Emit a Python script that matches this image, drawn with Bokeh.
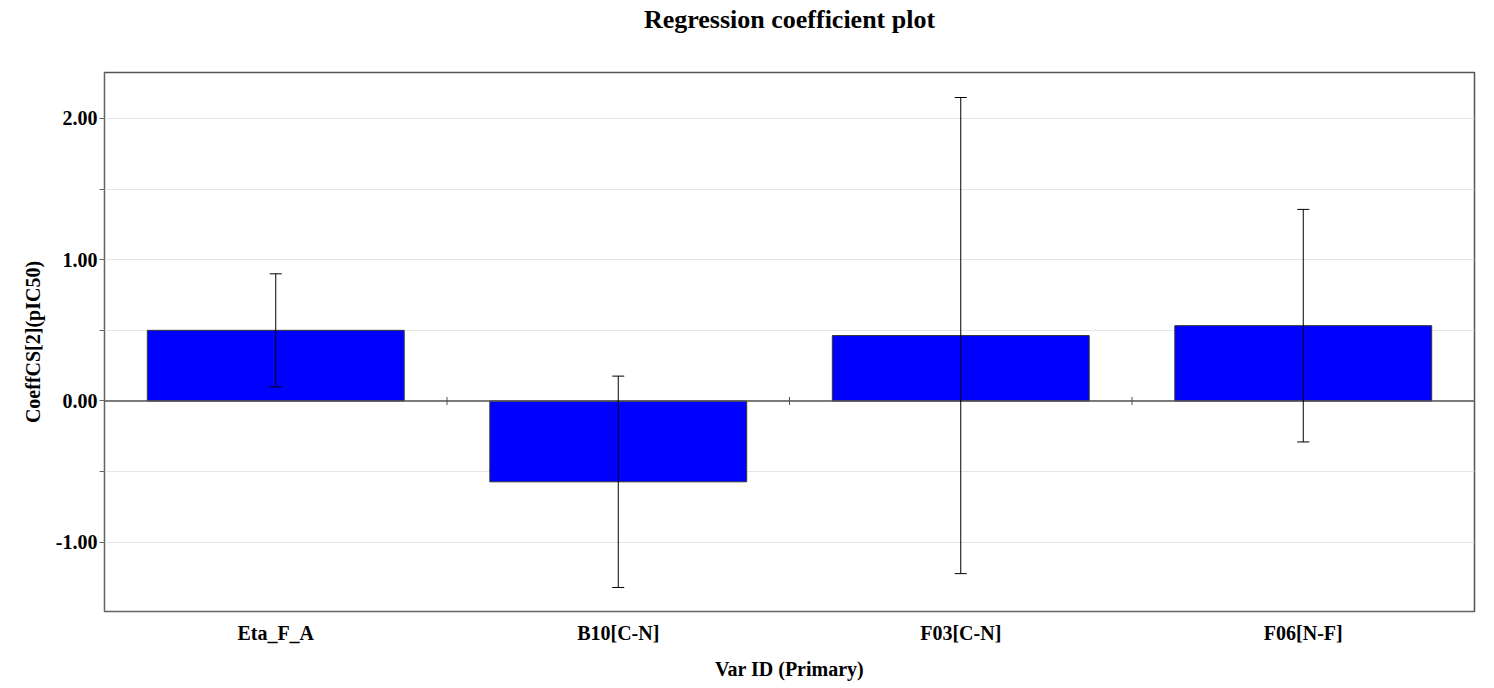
import math
from bokeh.plotting import figure
from bokeh.models import ColumnDataSource, Whisker, Span, FixedTicker, TeeHead, Title
from bokeh.transform import dodge
from bokeh.embed import file_html
from bokeh.resources import INLINE

categories = ["Eta_F_A", "B10[C-N]", "F03[C-N]", "F06[N-F]"]
coefficients = [0.50, -0.572, 0.463, 0.533]
conf_half = [0.40, 0.748, 1.685, 0.823]
y_major_ticks = [-1.0, 0.0, 1.0, 2.0]
y_minor_ticks = [-1.5, -0.5, 0.5, 1.5]

lower = [c - h for c, h in zip(coefficients, conf_half)]
upper = [c + h for c, h in zip(coefficients, conf_half)]
src = ColumnDataSource(dict(cat=categories, coef=coefficients, lower=lower, upper=upper,
                            zero=[0.0] * len(categories)))

FONT = "Liberation Serif"

p = figure(x_range=categories, y_range=(-1.49, 2.325), width=1494, height=688,
           output_backend="svg", toolbar_location=None, title=None,
           min_border_left=104, min_border_right=20, min_border_top=71, min_border_bottom=77)

p.vbar(x="cat", top="coef", bottom=0, width=0.75, source=src,
       fill_color="#0000FF", line_color="#333333", line_width=1)

p.add_layout(Span(location=0, dimension="width", line_color="#555555", line_width=1.5))

w = Whisker(base="cat", upper="upper", lower="lower", source=src,
            line_color="black", line_width=1, level="overlay",
            upper_head=TeeHead(size=12, line_color="black", line_width=1),
            lower_head=TeeHead(size=12, line_color="black", line_width=1))
p.add_layout(w)

# category separator ticks on zero line
p.scatter(x=dodge("cat", 0.5, range=p.x_range), y="zero", source=src, marker="dash",
          angle=math.pi / 2, size=8, line_color="#555555", line_width=1)

# spacer between frame and title, then the title itself
p.add_layout(Title(text=" ", text_font_size="1px", standoff=33), "above")
p.add_layout(Title(text="Regression coefficient plot", text_font=FONT, text_font_size="26px",
                   text_font_style="bold", align="center", text_color="black", standoff=5),
             "above")

LBL = "20px"
# y axis
p.yaxis.ticker = FixedTicker(ticks=y_major_ticks, minor_ticks=y_minor_ticks)
p.yaxis.major_label_overrides = {t: f"{t:.2f}" for t in y_major_ticks}
p.yaxis.axis_label = "CoeffCS[2](pIC50)"
p.yaxis.axis_label_text_font = FONT
p.yaxis.axis_label_text_font_size = LBL
p.yaxis.axis_label_text_font_style = "bold"
p.yaxis.axis_label_text_color = "black"
p.yaxis.major_label_text_font = FONT
p.yaxis.major_label_text_font_size = LBL
p.yaxis.major_label_text_font_style = "bold"
p.yaxis.major_label_text_color = "black"
p.yaxis.major_tick_in = 0
p.yaxis.major_tick_out = 5
p.yaxis.minor_tick_in = 0
p.yaxis.minor_tick_out = 5
p.yaxis.axis_line_color = "#666666"
p.yaxis.major_tick_line_color = "#666666"
p.yaxis.minor_tick_line_color = "#666666"
p.yaxis.major_label_standoff = 2
p.yaxis.axis_label_standoff = 9

# x axis
p.xaxis.axis_label = "Var ID (Primary)"
p.xaxis.axis_label_text_font = FONT
p.xaxis.axis_label_text_font_size = LBL
p.xaxis.axis_label_text_font_style = "bold"
p.xaxis.axis_label_text_color = "black"
p.xaxis.major_label_text_font = FONT
p.xaxis.major_label_text_font_size = LBL
p.xaxis.major_label_text_font_style = "bold"
p.xaxis.major_label_text_color = "black"
p.xaxis.major_tick_line_color = None
p.xaxis.minor_tick_line_color = None
p.xaxis.axis_line_color = "#666666"
p.xaxis.major_label_standoff = 4
p.xaxis.axis_label_standoff = 11

# grid
p.xgrid.grid_line_color = None
p.ygrid.grid_line_color = "#e6e6e6"
p.ygrid.minor_grid_line_color = "#e6e6e6"

p.outline_line_color = "#555555"
p.outline_line_width = 1.5
p.background_fill_color = "white"
p.border_fill_color = "white"

open("out.html", "w").write(file_html(p, INLINE))
